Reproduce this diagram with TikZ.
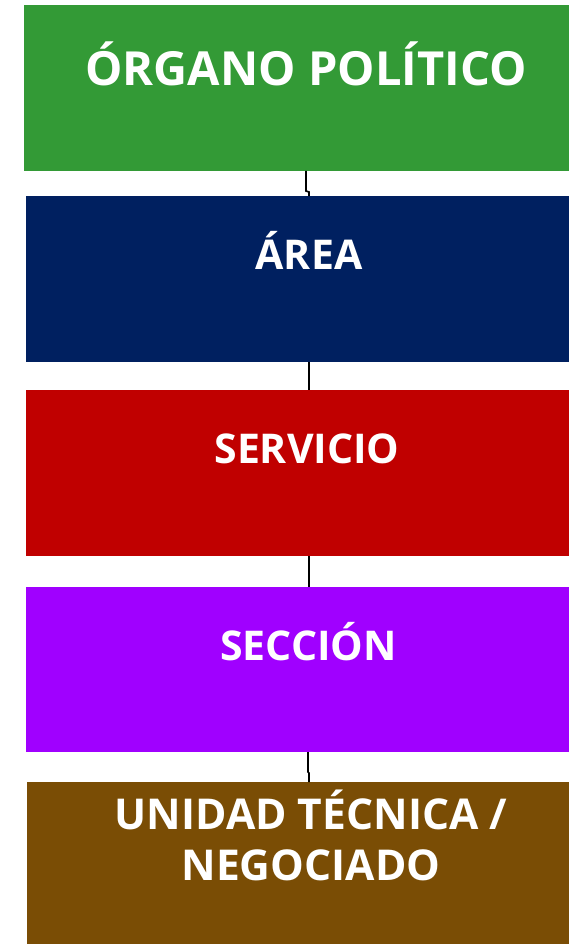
\documentclass[tikz,border=0pt]{standalone}
\usepackage{fontspec}
\newfontfamily\labfont{Open Sans}
\definecolor{cgreen}{RGB}{51,154,54}
\definecolor{cnavy}{RGB}{0,32,96}
\definecolor{cred}{RGB}{192,0,0}
\definecolor{cpurple}{RGB}{160,0,255}
\definecolor{cbrown}{RGB}{122,77,5}
\begin{document}
\begin{tikzpicture}[x=1pt,y=-1pt,
  lab/.style={text=white,inner sep=0pt,anchor=base,font=\labfont\bfseries\fontsize{41}{51}\selectfont,align=center},
  biglab/.style={lab,font=\labfont\bfseries\fontsize{47}{58}\selectfont},
  brlab/.style={lab,font=\labfont\bfseries\fontsize{42.5}{51}\selectfont},
  conn/.style={draw=black,line width=1.6pt}]
\useasboundingbox (0,0) rectangle (569,944);
\fill[cgreen]  (24,5)   rectangle (569,171);
\fill[cnavy]   (26,196) rectangle (569,362);
\fill[cred]    (26,390) rectangle (569,556);
\fill[cpurple] (26,587) rectangle (569,752);
\fill[cbrown]  (27,782) rectangle (569,944);
\coordinate (g) at (306,171);
\coordinate (n) at (309,196);
\coordinate (nb) at (309,362);
\coordinate (r) at (309,390);
\coordinate (rb) at (309,556);
\coordinate (p) at (309,587);
\coordinate (pb) at (308,752);
\coordinate (b) at (309,782);
\node[biglab] (t1) at (306,86) {ÓRGANO POLÍTICO};
\node[lab] (t2) at (309,269) {ÁREA};
\node[lab] (t3) at (307,463) {SERVICIO};
\node[lab] (t4) at (308.5,660) {SECCIÓN};
\node[brlab] (t5a) at (311,829) {UNIDAD TÉCNICA /};
\node[brlab] (t5b) at (311,880) {NEGOCIADO};
\draw[conn] (g) -- (306,191) -- (309,192) -- (n);
\draw[conn] (nb) -- (r);
\draw[conn] (rb) -- (p);
\draw[conn] (pb) -- (308,772) -- (309,773) -- (b);
\end{tikzpicture}
\end{document}
